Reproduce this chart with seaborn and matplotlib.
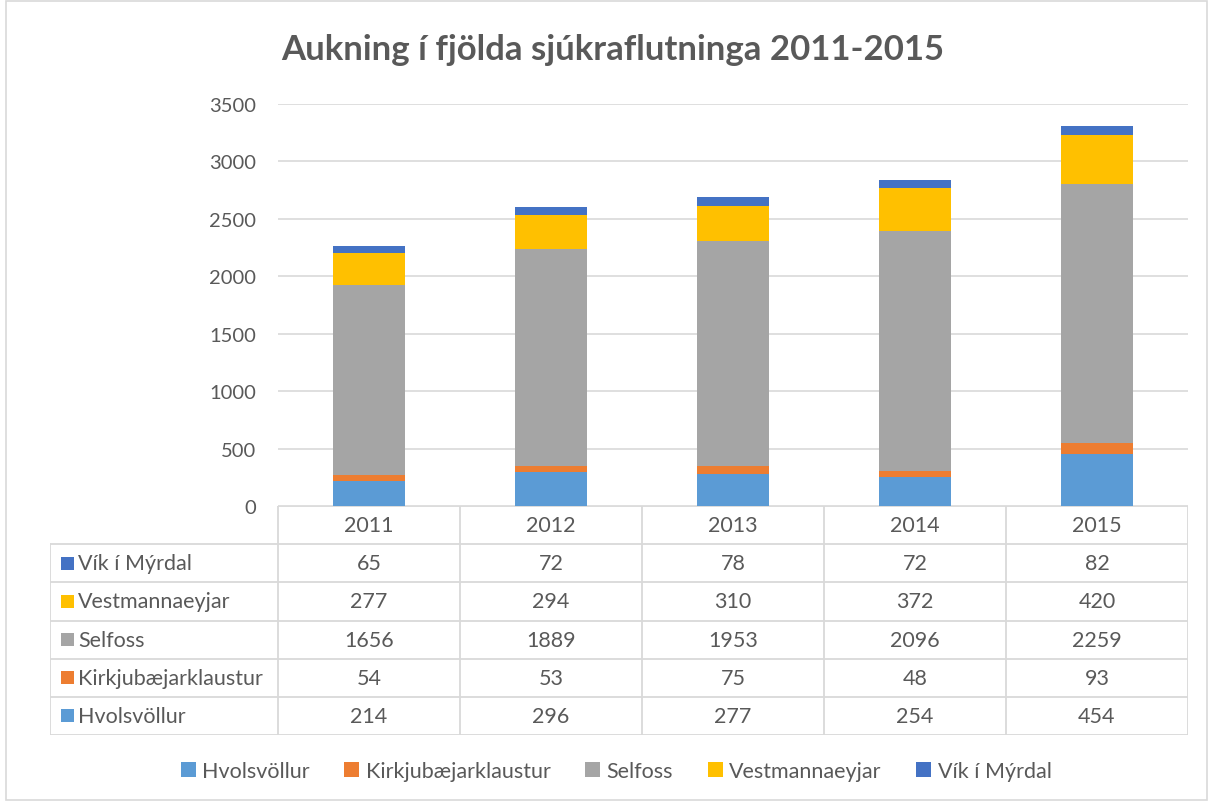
import numpy as np
import pandas as pd
import seaborn as sns
import matplotlib.pyplot as plt
from matplotlib.patches import Rectangle, Patch

years = ["2011", "2012", "2013", "2014", "2015"]
series = ["Hvolsvöllur", "Kirkjubæjarklaustur", "Selfoss", "Vestmannaeyjar", "Vík í Mýrdal"]
hvolsvollur = [214, 296, 277, 254, 454]
kirkjubaejarklaustur = [54, 53, 75, 48, 93]
selfoss = [1656, 1889, 1953, 2096, 2259]
vestmannaeyjar = [277, 294, 310, 372, 420]
vik = [65, 72, 78, 72, 82]
colors = ["#5B9BD5", "#ED7D31", "#A5A5A5", "#FFC000", "#4472C4"]
title = "Aukning í fjölda sjúkraflutninga 2011-2015"

values = [hvolsvollur, kirkjubaejarklaustur, selfoss, vestmannaeyjar, vik]
df = pd.DataFrame({s: v for s, v in zip(series, values)}, index=years)
cum = df.cumsum(axis=1)

sns.set_theme(style="white")
plt.rcParams["font.family"] = ["Lato", "DejaVu Sans"]
txt = "#595959"
grid = "#D9D9D9"
fs = 15.5

W, H = 1213, 803
fig = plt.figure(figsize=(W / 100, H / 100), dpi=100)

# main bar area
ax = fig.add_axes([278 / W, (H - 507) / H, 910 / W, 402 / H])
# stacked bars: draw cumulative totals from the top series down
for i in reversed(range(len(series))):
    sns.barplot(x=years, y=cum[series[i]].values, color=colors[i], width=0.4,
                saturation=1, linewidth=0, ax=ax)
ax.set_xlim(-0.5, 4.5)
ax.set_ylim(0, 3500)
ax.set_yticks(np.arange(0, 3501, 500))
ax.set_xticks([])
ax.set_xlabel("")
ax.yaxis.grid(True, color=grid, lw=1.2)
ax.set_axisbelow(True)
ax.tick_params(axis="y", length=0, pad=16, labelsize=14.5, labelcolor=txt)
sns.despine(ax=ax, left=True, bottom=True)

# data table under the bars
lab_w = 228 / 182
tax = fig.add_axes([50 / W, (H - 736) / H, 1138 / W, 229 / H])
tax.set_xlim(-0.5 - lab_w, 4.5)
tax.set_ylim(6, 0)
tax.axis("off")
left = -0.5 - lab_w
lw = 1.3
tax.plot([-0.5, 4.5], [0, 0], color=grid, lw=lw)
for r in range(1, 7):
    tax.plot([left, 4.5], [r, r], color=grid, lw=lw)
for k in range(6):
    tax.plot([-0.5 + k, -0.5 + k], [0, 6], color=grid, lw=lw)
tax.plot([left, left], [1, 6], color=grid, lw=lw)
for j, y in enumerate(years):
    tax.text(j, 0.5, y, ha="center", va="center", fontsize=fs, color=txt)
for r, i in enumerate(reversed(range(len(series)))):
    row = r + 1.5
    tax.add_patch(Rectangle((left + 11 / 182, row - 0.17), 13 / 182, 0.34,
                            color=colors[i], lw=0))
    tax.text(left + 28 / 182, row, series[i], ha="left", va="center",
             fontsize=fs, color=txt)
    for j in range(len(years)):
        tax.text(j, row, str(values[i][j]), ha="center", va="center",
                 fontsize=fs, color=txt)

# legend
handles = [Patch(color=c, lw=0) for c in colors]
fig.legend(handles, series, ncol=5, loc="center",
           bbox_to_anchor=(616 / W, 1 - 772 / H), frameon=False, fontsize=fs,
           labelcolor=txt, handlelength=0.7, handleheight=0.7,
           handletextpad=0.3, columnspacing=1.6)

fig.text(613 / W, 1 - 50 / H, title, ha="center", va="center", fontsize=25,
         fontweight="bold", color=txt)

fig.patches.append(Rectangle((6 / W, 2 / H), 1201 / W, 799 / H,
                             transform=fig.transFigure, fill=False,
                             ec=grid, lw=1.2))

fig.savefig("out.png", dpi=100)
